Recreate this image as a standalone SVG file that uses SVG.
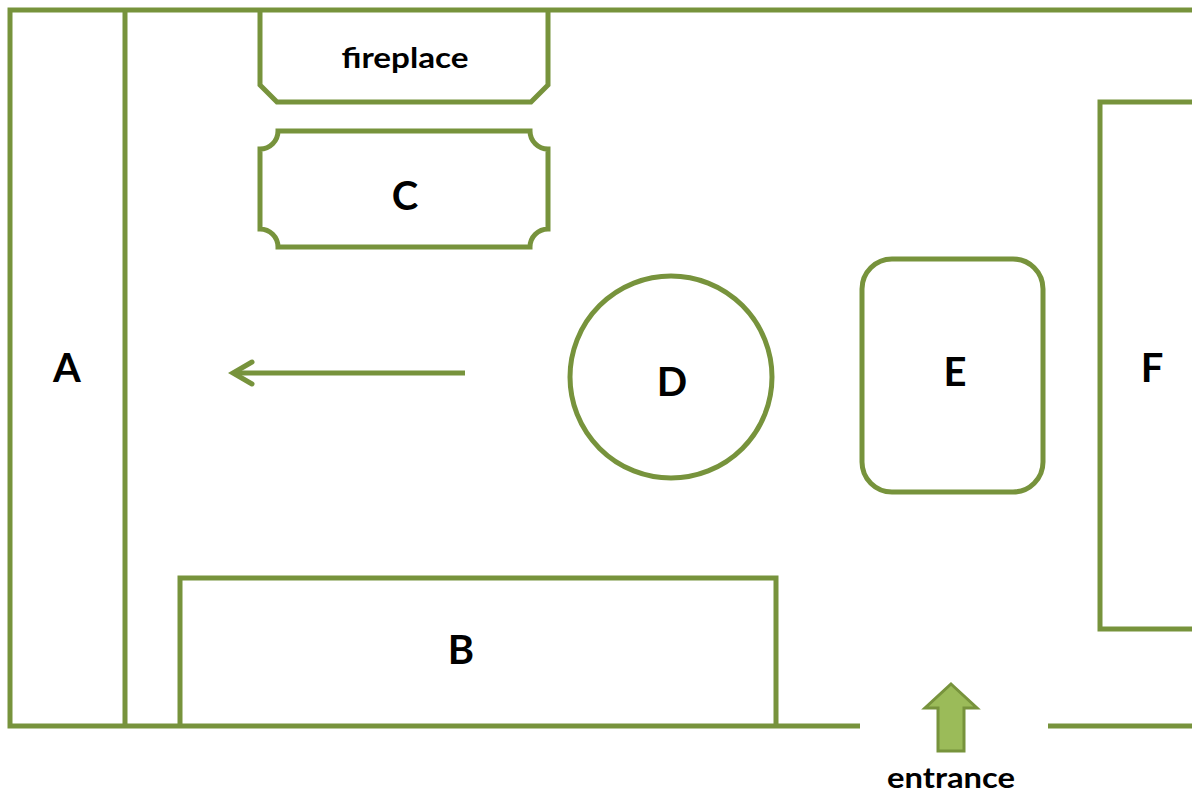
<svg xmlns="http://www.w3.org/2000/svg" width="1192" height="796" viewBox="0 0 1192 796">
<style>
.w{fill:none;stroke:#77933C;stroke-width:5;stroke-linejoin:miter}
.s{fill:none;stroke:#77933C;stroke-width:5}
.t{font-family:Lato,"Open Sans","Liberation Sans",sans-serif;font-weight:bold;fill:#000;text-anchor:middle}
.L{font-size:40px}
</style>
<rect width="1192" height="796" fill="#fff"/>
<g id="walls">
<path class="w" d="M1194,10 H10 V726 H860"/>
<path class="w" d="M1048,726 H1194"/>
</g>
<g id="A">
<path class="w" d="M125,10 V726"/>
<text class="t L" x="67" y="382">A</text>
</g>
<g id="fireplace">
<path class="s" d="M260,10 V85 L277,102 H531 L548,85 V10"/>
<text class="t" x="405" y="68" font-size="29" textLength="127" lengthAdjust="spacingAndGlyphs">fireplace</text>
</g>
<g id="C">
<path class="s" d="M278,131 H530 A18,18 0 0 0 548,149 V229 A18,18 0 0 0 530,247 H278 A18,18 0 0 0 260,229 V149 A18,18 0 0 0 278,131 Z"/>
<text class="t L" x="405" y="210">C</text>
</g>
<g id="D">
<circle class="s" cx="671" cy="377" r="101"/>
<text class="t L" x="672" y="396">D</text>
</g>
<g id="E">
<rect class="s" x="862" y="259" width="181" height="233" rx="30" ry="30"/>
<text class="t L" x="955" y="386">E</text>
</g>
<g id="F">
<path class="s" d="M1194,102 H1100 V629 H1194"/>
<text class="t L" x="1152" y="382">F</text>
</g>
<g id="B">
<path class="s" d="M180,726 V578 H776 V726"/>
<text class="t L" x="461" y="664">B</text>
</g>
<g id="entrance">
<path d="M951,684 L977,708 H964 V751 H938 V708 H925 Z" fill="#9BBB59" stroke="#77933C" stroke-width="3" stroke-linejoin="miter"/>
<text class="t" x="951" y="788" font-size="28" textLength="128" lengthAdjust="spacingAndGlyphs">entrance</text>
</g>
<g id="connectors">
<path d="M465,373 H234" fill="none" stroke="#77933C" stroke-width="5"/>
<path d="M252,362 L233,373 L252,384" fill="none" stroke="#77933C" stroke-width="5" stroke-linecap="round" stroke-linejoin="miter"/>
</g>
</svg>
